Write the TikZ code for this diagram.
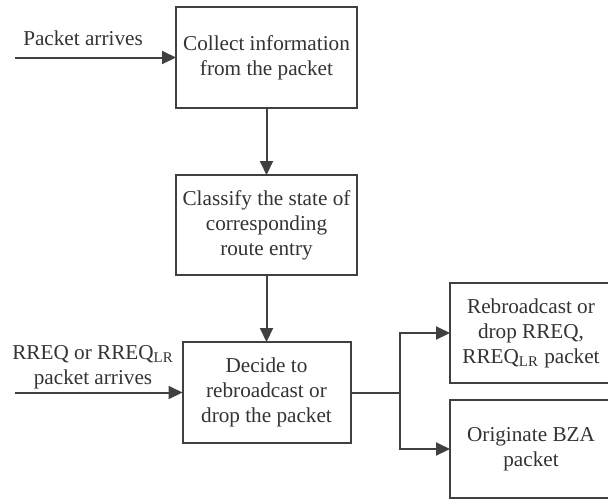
\documentclass[tikz,border=0pt]{standalone}
\usepackage{fontspec}
\setmainfont{Liberation Serif}
\usetikzlibrary{arrows.meta}
\definecolor{ln}{HTML}{404040}
\definecolor{tx}{HTML}{333333}
\begin{document}
\begin{tikzpicture}[x=0.5pt,y=-0.5pt,
  font=\fontsize{10.6}{12.5}\selectfont,
  box/.style={draw=ln, line width=1pt, fill=white, text=tx, align=center,
    inner sep=0pt, outer sep=0pt},
  lbl/.style={text=tx, align=center, inner sep=0pt},
  conn/.style={draw=ln, line width=1pt, -{Triangle[length=7pt,width=6.5pt]}}]
\useasboundingbox (0,0) rectangle (608,499);
\clip (0,0) rectangle (608,499);
\node[box, minimum width=90.5pt, minimum height=50.5pt] (b1) at (266.5,57.5)
  {Collect information\\from the packet};
\node[box, minimum width=90.5pt, minimum height=50pt] (b2) at (266.5,225)
  {Classify the state of\\corresponding\\route entry};
\node[box, minimum width=84pt, minimum height=50.5pt] (b3) at (266.5,392.5)
  {Decide to\\rebroadcast or\\drop the packet};
\node[box, minimum width=81pt, minimum height=50pt] (b4) at (531,333)
  {Rebroadcast or\\drop RREQ,\\RREQ\textsubscript{LR} packet};
\node[box, minimum width=81pt, minimum height=49pt] (b5) at (531,449)
  {Originate BZA\\packet};
\coordinate (in1) at (15,57.5);
\coordinate (in2) at (15,392.5);
\coordinate (sp) at (400,392.5);
\node[lbl] (l1) at (83,38) {Packet arrives};
\node[lbl] (l2) at (93,367) {RREQ or RREQ\textsubscript{LR}\\packet arrives};
\draw[conn] (in1) -- (b1.west);
\draw[conn] (b1.south) -- (b2.north);
\draw[conn] (b2.south) -- (b3.north);
\draw[conn] (in2) -- (b3.west);
\draw[draw=ln, line width=1pt] (b3.east) -- (sp);
\draw[conn] (sp) |- (b4.west);
\draw[conn] (sp) |- (b5.west);
\end{tikzpicture}
\end{document}
